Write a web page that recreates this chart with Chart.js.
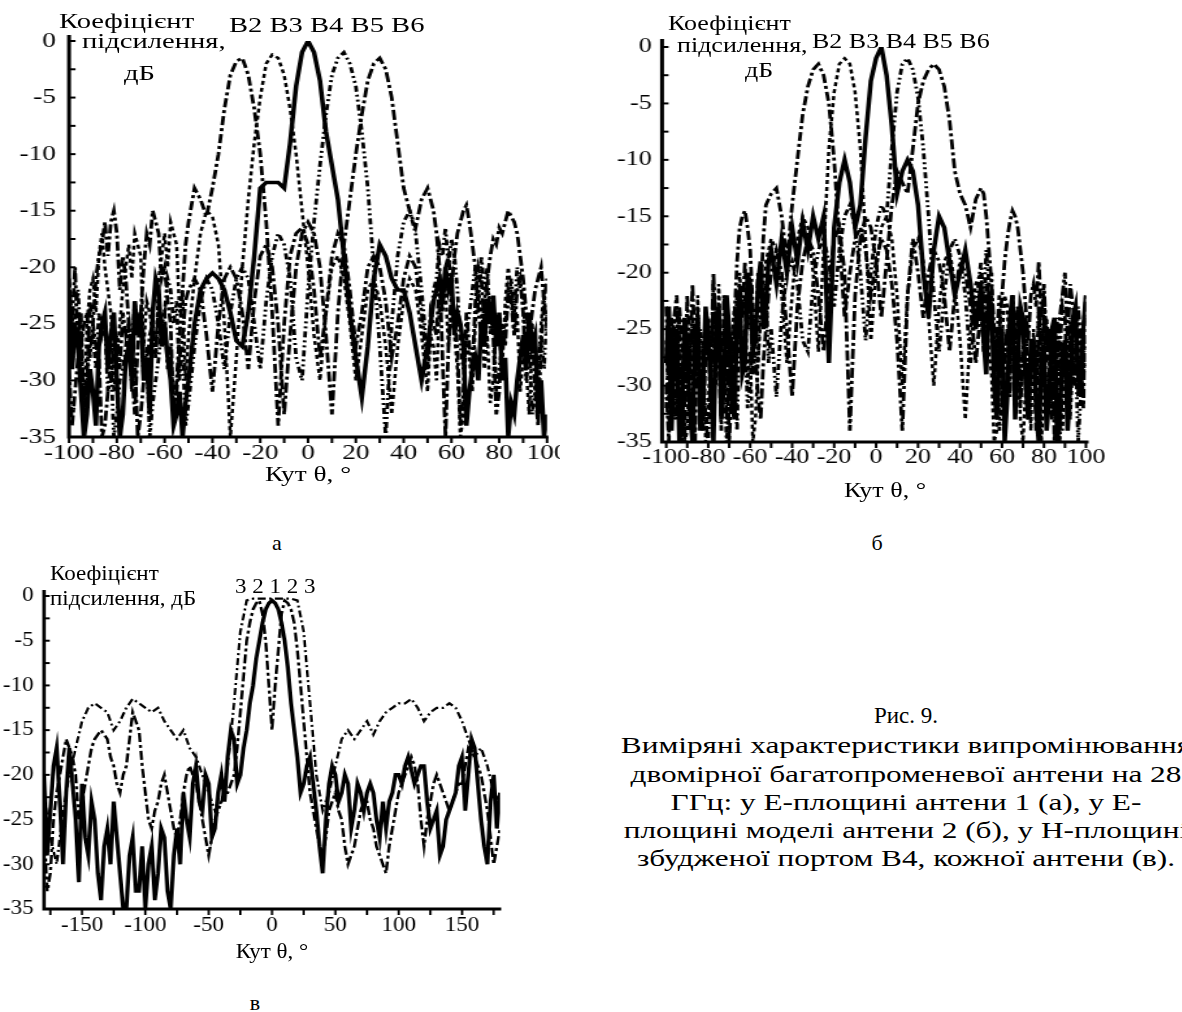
<!DOCTYPE html>
<html><head><meta charset="utf-8">
<script src="https://cdn.jsdelivr.net/npm/chart.js@4.4.1/dist/chart.umd.min.js"></script>
<style>
html,body{margin:0;padding:0;background:#fff;}
body{width:1182px;height:1012px;overflow:hidden;position:relative;font-family:"Liberation Serif","Times New Roman",serif;color:#000;}
.panel{position:absolute;transform-origin:0 0;}
.panel canvas{position:absolute;left:0;top:0;}
.t{position:absolute;white-space:nowrap;line-height:1;color:#000;}
.cap{position:absolute;white-space:nowrap;line-height:1;}
</style></head>
<body>
<script>
// ---------- DATA ----------
const ANGLES_AB = [
 -100,-98.75,-97.5,-96.25,-95,-93.75,-92.5,-91.25,-90,-88.75,
 -87.5,-86.25,-85,-83.75,-82.5,-81.25,-80,-78.75,-77.5,-76.25,
 -75,-73.75,-72.5,-71.25,-70,-68.75,-67.5,-66.25,-65,-63.75,
 -62.5,-61.25,-60,-58.75,-57.5,-56.25,-55,-53.75,-52.5,-51.25,-50,
 -47.5,-45,-42.5,-40,-37.5,-35,-32.5,-30,-27.5,
 -25,-22.5,-20,-17.5,-15,-12.5,-10,-7.5,-5,-2.5,
 0,2.5,5,7.5,10,12.5,15,17.5,20,22.5,
 25,27.5,30,32.5,35,37.5,40,42.5,45,47.5,
 50,51.25,52.5,53.75,55,56.25,57.5,58.75,60,61.25,
 62.5,63.75,65,66.25,67.5,68.75,70,71.25,72.5,73.75,
 75,76.25,77.5,78.75,80,81.25,82.5,83.75,85,86.25,
 87.5,88.75,90,91.25,92.5,93.75,95,96.25,97.5,98.75,100];

// Panel а (E-plane, antenna 1)
const A_B2 = [
 -21,-25,-20,-27,-24,-33,-30,-23,-25,-21,-19,-18,-16,-19,-16,-15,-17,-22,-19,-21,-25,-29,-33,-27,-24,-20,-17,-18,-15,-16,-17,-21,-20,-23,-25,-33,-30,-26,-22,-18,-16,
 -13,-14,-15.5,-13,-10,-6,-3,-1.8,-1.5, -3,-6,-10,-16,-24,-34,-25,-19,-17,-16.5, -18,-22,-28,-24,-19,-17,-18,-22,-27,-24, -20,-19,-20,-23,-28,-25,-21,-19,-20,-24,
 -29,-24,-25,-26,-21,-24,-20,-19,-22,-25,-27,-34,-31,-24,-27,-29,-23,-20,-21,-25,-22,-23,-26,-33,-31,-25,-27,-22,-23,-26,-22,-21,-24,-30,-28,-25,-31,-34,-27,-23,-25];
const A_B3 = [
 -23,-29,-26,-24,-30,-34,-25,-22,-21,-24,-19,-17,-20,-22,-24,-31,-28,-25,-22,-20,-18,-21,-17,-18,-19,-27,-23,-24,-26,-28,-21,-19,-17,-20,-16,-17,-18,-24,-22,-30,-26,
 -21,-17,-15,-15.5,-18,-25,-35,-28,-20, -14,-9,-5,-2,-1.2,-1.5,-3,-6,-10,-15, -20,-26,-30,-24,-20,-19,-21,-25,-30,-26, -22,-21,-23,-27,-33,-27,-23,-21,-22,-26,
 -31,-26,-27,-30,-23,-21,-22,-27,-24,-26,-29,-35,-33,-26,-28,-31,-25,-22,-24,-29,-26,-32,-30,-25,-26,-29,-23,-20,-22,-26,-24,-31,-28,-29,-33,-27,-28,-32,-25,-22,-26];
const A_B4 = [
 -22,-29,-25,-27,-31,-35,-33,-29,-31,-34,-27,-25,-24,-29,-26,-24,-30,-35,-33,-28,-27,-30,-23,-26,-24,-30,-28,-33,-24,-21,-22,-27,-25,-28,-30,-34,-33,-31,-35,-32,-30,
 -25,-22,-21,-20.5,-21,-22,-24,-26.5,-27, -24,-19,-13,-12.5,-12.5,-12.5,-13,-9,-4,-1, 0,-1,-3.5,-8,-11,-14,-19,-24,-28,-31.5, -27,-21,-18,-19,-21,-22,-22,-24,-27,-30,
 -27,-25,-23,-22,-21,-23,-20,-22,-21,-26,-24,-25,-27,-34,-31,-29,-28,-30,-25,-27,-23,-25,-22.5,-27,-24,-30,-28,-35,-32,-33,-30,-28,-26,-29,-24,-27,-26,-33,-30,-35,-33];
const A_B5 = [
 -25,-29,-24,-22,-27,-32,-30,-27,-26,-29,-24,-26,-25,-31,-28,-35,-33,-30,-29,-27,-25,-28,-23,-26,-24,-30,-27,-35,-32,-30,-28,-25,-24,-21,-22,-25,-23,-30,-27,-34,-32,
 -27,-23,-21,-22,-25,-29,-24,-21,-20, -21,-25,-29,-23,-19,-17,-18,-21,-28,-30, -22,-16,-11,-6.5,-3,-1.5,-1,-2,-4,-8, -13,-20,-27,-35,-25,-19,-16,-15,-17,-22,
 -28,-26,-22,-21,-18,-19,-16.5,-20,-17.5,-19,-22,-27,-29,-26,-24,-22,-20,-23,-19,-22,-20,-26,-24,-31,-29,-27,-25,-23,-21,-24,-20,-22,-22,-28,-26,-33,-31,-28,-26,-29,-24];
const A_B6 = [
 -29,-34,-31,-28,-27,-25,-24,-28,-25,-27,-28,-35,-34,-31,-30,-27,-26,-29,-24,-26,-25,-31,-28,-35,-33,-30,-29,-26,-25,-28,-23,-25,-24,-29,-27,-33,-31,-28,-26,-23,-22,
 -21,-22,-26,-31,-25,-21,-20,-21,-24, -29,-23,-19,-18,-20,-25,-33,-26,-20,-17, -16,-17,-20,-26,-33,-24,-18,-14,-10,-6.5, -3.5,-2,-1.5,-2.5,-5,-9,-13,-15,-16.5,-14,
 -13,-14,-15,-17,-20,-28,-35,-27,-22,-19,-17,-16,-15,-14.5,-16,-18,-20,-24,-26,-23,-21,-19,-17.5,-18,-16.5,-17,-16,-15,-15.5,-16,-17,-19,-21,-24,-26,-24,-22,-21,-20,-23,-21];

// Panel б (E-plane, antenna model 2)
const B_B2 = [
 -30,-35,-24,-28,-33,-23,-26,-32,-22,-27,-29,-35,-23,-30,-34,-26,-25,-31,-21,-25,-27,-34,-22,-26,-31,-28,-24,-19,-16,-15,-14.5,-16,-18,-23,-26,-20,-22,-17,-14,-13.5,-13,
 -12.5,-15,-19,-14,-10,-6,-3.5,-2,-1.5, -2.5,-5,-10,-17,-24,-20,-17,-16,-18,-22, -19,-17,-18,-21,-26,-34,-22,-17,-20,-24, -20,-18,-19,-22,-27,-22,-19,-20,-23,-28,
 -23,-27,-21,-24,-22,-30,-26,-22,-32,-28,-25,-31,-22,-26,-23,-32,-27,-24,-33,-29,-26,-34,-23,-28,-24,-33,-29,-25,-35,-30,-27,-23,-24,-31,-25,-28,-30,-23,-26,-32,-24];
const B_B3 = [
 -26,-33,-31,-25,-23,-30,-28,-35,-34,-27,-25,-29,-22,-31,-26,-35,-32,-26,-24,-30,-21,-27,-25,-33,-30,-26,-23,-28,-20,-24,-22,-30,-27,-35,-33,-28,-24,-21,-19,-18,-17,
 -18,-22,-28,-22,-17,-15,-16,-20,-27, -18,-9,-4,-1.5,-1,-1.5,-4,-9,-17,-26, -20,-16,-15,-17,-22,-30,-22,-18,-17,-19, -24,-30,-23,-19,-18,-21,-26,-33,-25,-21,
 -20,-26,-23,-27,-29,-35,-34,-29,-26,-22,-23,-28,-24,-32,-28,-33,-35,-30,-28,-34,-25,-29,-26,-35,-31,-24,-27,-33,-24,-28,-26,-34,-30,-26,-33,-28,-27,-31,-25,-29,-28];
const B_B4 = [
 -28,-23,-34,-27,-25,-35,-33,-24,-27,-32,-35,-26,-24,-34,-31,-23,-26,-30,-35,-25,-23,-33,-30,-22,-25,-31,-33,-24,-22,-29,-28,-20,-21,-27,-26,-21,-19,-25,-23,-19,-18,
 -21,-17,-20,-16,-19,-15.5,-18,-15,-17, -15,-28,-16,-12,-10,-12,-16,-14,-8,-3, -1,0,-2.5,-7,-13,-11,-10,-11,-14,-20, -24,-18,-15,-16,-19,-22,-20,-18,-21,-25,
 -21,-26,-29,-22,-23,-30,-33,-27,-25,-35,-31,-24,-22,-33,-28,-23,-24,-30,-33,-26,-26,-32,-35,-28,-27,-34,-31,-25,-24,-35,-33,-27,-26,-34,-30,-24,-23,-29,-31,-25,-22];
const B_B5 = [
 -32,-27,-26,-33,-29,-24,-35,-30,-28,-34,-24,-29,-30,-25,-27,-33,-35,-29,-28,-23,-24,-31,-27,-35,-32,-26,-28,-34,-23,-27,-25,-32,-30,-26,-24,-28,-20,-23,-21,-28,-25,
 -31,-24,-20,-19,-21,-26,-27,-21,-18, -17,-19,-23,-18,-15,-14,-16,-20,-26,-20, -16,-14,-15,-9,-4,-1.5,-1,-2,-4.5,-9, -15,-22,-27,-22,-18,-17,-18.5,-22,-28,-23,
 -19,-23,-18,-21,-20,-29,-25,-34,-31,-27,-25,-29,-22,-27,-23,-31,-27,-24,-33,-28,-27,-32,-23,-29,-22,-28,-25,-33,-29,-24,-35,-30,-28,-33,-24,-30,-26,-35,-31,-26,-27];
const B_B6 = [
 -23,-31,-27,-24,-22,-28,-31,-35,-25,-29,-21,-27,-26,-30,-33,-27,-24,-29,-20,-26,-23,-31,-29,-25,-35,-30,-26,-22,-21,-24,-19,-25,-22,-29,-27,-31,-33,-28,-25,-22,-20,
 -18,-20,-25,-31,-23,-19,-17,-18,-22, -27,-21,-17,-16,-20,-34,-22,-17,-15,-16, -19,-24,-19,-14,-11,-12,-13,-9,-5,-3, -2,-1.5,-2,-3.5,-6.5,-11,-13,-14,-16,-13.5,
 -12.5,-13,-15,-18,-21,-25,-28,-25,-22,-19,-17,-15.5,-14.5,-15,-16,-18,-20,-23,-26,-22,-21,-23,-19,-24,-21,-27,-25,-29,-31,-27,-24,-22,-20,-26,-21,-23,-25,-30,-29,-25,-22];

// Panel в (H-plane, port B4)
const ANGLES_C_FINE = [
 -180,-177.5,-175,-172.5,-170,-167.5,-165,-162.5,-160,-157.5,
 -155,-152.5,-150,-147.5,-145,-142.5,-140,-137.5,-135,-132.5,
 -130,-127.5,-125,-122.5,-120,-117.5,-115,-112.5,-110,-107.5,
 -105,-102.5,-100,-97.5,-95,-92.5,-90,-87.5,-85,-82.5,
 -80,-77.5,-75,-72.5,-70,-67.5,-65,-62.5,-60,-57.5,
 -55,-52.5,-50,-47.5,-45,-42.5,-40,-37.5,-35,-32.5,
 -30,-27.5,-25,-22.5,-20,-17.5,-15,-12.5,-10,-7.5,
 -5,-2.5,0,2.5,5,7.5,10,12.5,15,17.5,
 20,22.5,25,27.5,30,32.5,35,37.5,40,42.5,
 45,47.5,50,52.5,55,57.5,60,62.5,65,67.5,
 70,72.5,75,77.5,80,82.5,85,87.5,90,92.5,
 95,97.5,100,102.5,105,107.5,110,112.5,115,117.5,
 120,122.5,125,127.5,130,132.5,135,137.5,140,142.5,
 145,147.5,150,152.5,155,157.5,160,162.5,165,167.5,
 170,172.5,175,177.5,180];
const C_1 = [
 -20,-29,-24,-19,-17,-23,-30,-22,-17,-21,
 -25,-32,-21,-27,-29,-23,-25,-31,-34,-28,
 -26,-30,-23,-27,-31,-35,-35,-29,-27,-33,
 -33,-28,-35,-30,-28,-34,-31,-26,-27,-33,
 -35,-29,-26,-30,-22,-25,-27,-21,-19,-23,
 -24,-20,-21,-27,-26,-22,-20,-23,-18,-15,
 -16,-21,-20,-17,-15,-12,-10,-7,-5,-3,
 -1.5,-0.8,-0.5,-0.8,-1.5,-3,-5,-8,-12,-15,
 -18,-22,-21,-19,-18,-21,-24,-28,-31,-25,
 -21,-19,-20,-23,-22,-20,-21,-26,-24,-21,
 -22,-24,-22,-21,-22,-25,-27,-23,-26,-23,
 -22,-20,-20,-21,-19,-18,-19.5,-21,-20,-19,
 -19,-23,-26,-25,-24,-29,-28,-25,-24,-23,
 -22,-19,-18,-24,-20,-16,-17,-21,-25,-28,
 -30,-23,-20,-26,-22];
const C_2 = [
 -26,-33,-31,-25,-22,-20,-18,-16,-17,-18,
 -20,-25,-23,-21,-19,-17,-16,-15.5,-15,-15.5,
 -16,-18,-19,-21,-22,-20,-19,-16,-13,-14,
 -15,-19,-22,-25,-26,-24,-23,-21,-20,-22,
 -24,-26,-27,-25,-22,-20,-19,-20,-21,-23,
 -25,-27,-29,-27,-25,-24,-23,-22,-22,-21,
 -20,-17,-13,-9,-5,-3,-1.5,-0.8,-0.5,-2,
 -5,-10,-15,-10,-6,-2,-0.5,-0.8,-1.5,-3,
 -6,-10,-14,-18,-22,-24,-26,-28,-29,-27,
 -24,-23,-22,-24,-25,-28,-30,-29,-28,-26,
 -24,-23,-23,-25,-26,-28,-29,-30,-31,-28,
 -26,-24,-22,-21,-20,-19,-18,-19,-21,-25,
 -28,-25,-23,-21,-20,-21,-22,-23,-24,-23,
 -22,-21,-21,-19,-17,-17.5,-18,-19,-20,-22,
 -24,-27,-30,-28,-26];
const ANGLES_C = [
 -180,-175,-170,-165,-160,-155,-150,-145,-140,-135,
 -130,-125,-120,-115,-110,-105,-100,-95,-90,-85,
 -80,-75,-70,-65,-60,-55,-50,-45,-40,-35,
 -30,-25,-20,-15,-10,-5,0,5,10,15,
 20,25,30,35,40,45,50,55,60,65,
 70,75,80,85,90,95,100,105,110,115,
 120,125,130,135,140,145,150,155,160,165,
 170,175,180];
const C_3 = [
 -22,-27,-30,-24,-20,-17,-14,-12.5,-12,-12.5,
 -13,-15,-14,-12.5,-11.5,-12,-12.5,-13,-12.5,-14,
 -15,-16,-15,-17,-18,-20,-22,-24,-23,-19,
 -12,-4,-0.5,-0.3,-0.3,-0.3,-0.3,-0.3,-0.3,-0.3,
 -0.5,-4,-12,-20,-24,-22,-19,-16,-15,-16,
 -15,-14,-15.5,-14,-13,-12.5,-12,-12,-11.5,-12.5,
 -14,-13,-12.5,-12.5,-12,-12.5,-14,-16,-18,-17,
 -19,-22,-23];

// Ticks
const Y_TICKS = [0,-5,-10,-15,-20,-25,-30,-35];
const Y_MINOR = [0,-2.5,-5,-7.5,-10,-12.5,-15,-17.5,-20,-22.5,-25,-27.5,-30,-32.5,-35];
const X_TICKS_AB = [-100,-80,-60,-40,-20,0,20,40,60,80,100];
const X_MINOR_AB = [-100,-90,-80,-70,-60,-50,-40,-30,-20,-10,0,10,20,30,40,50,60,70,80,90,100];
const X_TICKS_C = [-150,-100,-50,0,50,100,150];
const X_MINOR_C = [-175,-150,-125,-100,-75,-50,-25,0,25,50,75,100,125,150,175];

// ---------- RENDER ----------
Chart.defaults.font.family = '"Liberation Serif","Times New Roman",serif';
Chart.defaults.color = '#000';

function makePanel(o){
  const el = document.createElement('div');
  el.className = 'panel';
  el.style.left = o.left+'px'; el.style.top = o.top+'px';
  el.style.width = o.W+'px'; el.style.height = o.H+'px';
  el.style.transform = 'scaleX('+o.s+')';
  document.body.appendChild(el);
  const cv = document.createElement('canvas');
  cv.width = o.W; cv.height = o.H;
  cv.style.width = o.W+'px'; cv.style.height = o.H+'px';
  el.appendChild(cv);
  o.el = el;
  const frame = {
    id:'frame',
    afterDatasetsDraw(chart){
      const {ctx, chartArea:ca, scales:{x,y}} = chart;
      ctx.save();
      ctx.strokeStyle = '#000';
      ctx.lineWidth = 2;
      o.yMinor.forEach(v=>{const py=y.getPixelForValue(v);ctx.beginPath();ctx.moveTo(ca.left,py);ctx.lineTo(ca.left+o.yTickLen,py);ctx.stroke();});
      o.xMinor.forEach(v=>{const px=x.getPixelForValue(v);ctx.beginPath();ctx.moveTo(px,ca.bottom);ctx.lineTo(px,ca.bottom+o.xTickLen);ctx.stroke();});
      ctx.lineWidth = o.axisW;
      ctx.beginPath();
      ctx.moveTo(ca.left, ca.top - o.ext);
      ctx.lineTo(ca.left, ca.bottom);
      ctx.lineTo(ca.right + o.extR, ca.bottom);
      ctx.stroke();
      ctx.restore();
    }
  };
  new Chart(cv, {
    type:'line',
    data:{datasets:o.series.map(s=>({
      label:s.label,
      data:s.xs.map((xv,i)=>({x:xv,y:s.ys[i]})),
      borderColor:'#000', backgroundColor:'#000',
      borderWidth:s.w, borderDash:s.dash, pointRadius:0, tension:0, fill:false,
      borderCapStyle:'butt', borderJoinStyle:'miter'
    }))},
    options:{
      responsive:false, animation:false, devicePixelRatio:1,
      layout:{padding:{left:0,top:o.padTop,right:o.padRight,bottom:0}},
      plugins:{legend:{display:false},tooltip:{enabled:false}},
      scales:{
        x:{type:'linear',min:o.xmin,max:o.xmax,
           grid:{display:false,drawTicks:false},border:{display:false},
           afterBuildTicks:sc=>{sc.ticks=o.xTicks.map(v=>({value:v}));},
           afterFit:sc=>{sc.height=o.xH;sc.paddingLeft=0;sc.paddingRight=0;},
           ticks:{autoSkip:false,maxRotation:0,minRotation:0,padding:o.xPad,font:{size:o.tickSize},color:'#000'}},
        y:{type:'linear',min:-35,max:0,
           grid:{display:false,drawTicks:false},border:{display:false},
           afterBuildTicks:sc=>{sc.ticks=Y_TICKS.map(v=>({value:v}));},
           afterFit:sc=>{sc.width=o.yW;sc.paddingTop=0;sc.paddingBottom=0;},
           ticks:{autoSkip:false,padding:o.yPad,font:{size:o.tickSize},color:'#000'}}
      }
    },
    plugins:[frame]
  });
  return o;
}

function addText(p, txt, xDisp, yDisp, size, align){
  const d = document.createElement('div');
  d.className='t'; d.textContent=txt; d.style.fontSize=size+'px';
  d.style.top = (yDisp - p.top - size*0.6)+'px';
  d.style.left = ((xDisp - p.left)/p.s)+'px';
  if(align==='center') d.style.transform='translateX(-50%)';
  p.el.appendChild(d);
}
function addBodyText(txt, xc, y, size, sx){
  const d=document.createElement('div');
  d.className='cap'; d.textContent=txt; d.style.fontSize=size+'px';
  d.style.left=xc+'px'; d.style.top=(y-size*0.6)+'px';
  d.style.transform='translateX(-50%) scaleX('+(sx||1)+')';
  document.body.appendChild(d);
}

const DASH_B2=[9,3,3,3], DASH_B3=[4,3], DASH_B5=[6,3,2,3,2,3], DASH_B6=[10,3,3,3];

// Panel а
const pA = makePanel({left:0,top:0,s:1.3,W:431,H:470,padTop:41,padRight:10.2,yW:53.1,xH:33,
  xmin:-100,xmax:100,xTicks:X_TICKS_AB,xMinor:X_MINOR_AB,yMinor:Y_MINOR,
  tickSize:21,xPad:4,yPad:10,yTickLen:5,xTickLen:6,axisW:3,ext:6,extR:1,
  series:[
    {label:'B2',xs:ANGLES_AB,ys:A_B2,w:2.8,dash:DASH_B2},
    {label:'B3',xs:ANGLES_AB,ys:A_B3,w:2.5,dash:DASH_B3},
    {label:'B5',xs:ANGLES_AB,ys:A_B5,w:2.8,dash:DASH_B5},
    {label:'B6',xs:ANGLES_AB,ys:A_B6,w:2.8,dash:DASH_B6},
    {label:'B4',xs:ANGLES_AB,ys:A_B4,w:3.5,dash:[]}
  ]});
addText(pA,'Коефіцієнт',59,23,22);
addText(pA,'підсилення,',82,43,22);
addText(pA,'дБ',124,75,22);
addText(pA,'B2 B3 B4 B5 B6',229,27,22);
addText(pA,'Кут θ, °',308,477,21,'center');

// Panel б
const pB = makePanel({left:590,top:0,s:1.3,W:408,H:480,padTop:47,padRight:26.5,yW:55.4,xH:38,
  xmin:-102,xmax:100,xTicks:X_TICKS_AB,xMinor:X_MINOR_AB,yMinor:Y_MINOR,
  tickSize:20,xPad:4,yPad:8,yTickLen:5,xTickLen:6,axisW:3,ext:8,extR:2,
  series:[
    {label:'B2',xs:ANGLES_AB,ys:B_B2,w:2.8,dash:DASH_B2},
    {label:'B3',xs:ANGLES_AB,ys:B_B3,w:2.5,dash:DASH_B3},
    {label:'B5',xs:ANGLES_AB,ys:B_B5,w:2.8,dash:DASH_B5},
    {label:'B6',xs:ANGLES_AB,ys:B_B6,w:2.8,dash:DASH_B6},
    {label:'B4',xs:ANGLES_AB,ys:B_B4,w:3.5,dash:[]}
  ]});
addText(pB,'Коефіцієнт',668,25,20);
addText(pB,'підсилення,',677,47,20);
addText(pB,'дБ',745,72,20);
addText(pB,'B2 B3 B4 B5 B6',812,43,20);
addText(pB,'Кут θ, °',885,492,20,'center');

// Panel в
const pC = makePanel({left:0,top:560,s:1.15,W:452,H:380,padTop:36,padRight:17.2,yW:38.26,xH:31,
  xmin:-180,xmax:180,xTicks:X_TICKS_C,xMinor:X_MINOR_C,yMinor:Y_MINOR,
  tickSize:20,xPad:5,yPad:9,yTickLen:5,xTickLen:6,axisW:3,ext:6,extR:1,
  series:[
    {label:'3',xs:ANGLES_C,ys:C_3,w:2.3,dash:[7,3,2,3]},
    {label:'2',xs:ANGLES_C_FINE,ys:C_2,w:2.6,dash:[9,3,3,3]},
    {label:'1',xs:ANGLES_C_FINE,ys:C_1,w:3.5,dash:[]}
  ]});
addText(pC,'Коефіцієнт',50,575,20);
addText(pC,'підсилення, дБ',50,600,20);
addText(pC,'3 2 1 2 3',235,588,20);
addText(pC,'Кут θ, °',272,953,20,'center');

// labels and caption
addBodyText('а',277,545,22);
addBodyText('б',877,545,22);
addBodyText('в',255,1005,22);
const CAPTION = ['Рис. 9.',
 'Виміряні характеристики випромінювання',
 'двомірної багатопроменевої антени на 28',
 'ГГц:  у  Е-площині антени 1 (а), у Е-',
 'площині моделі антени 2 (б), у Н-площині',
 'збудженої портом В4, кожної антени (в).'];
const CAP_Y = [718,748,777,805,833,861];
CAPTION.forEach((t,i)=>addBodyText(t,906,CAP_Y[i],23,i===0?1:1.36));
</script>
</body></html>
